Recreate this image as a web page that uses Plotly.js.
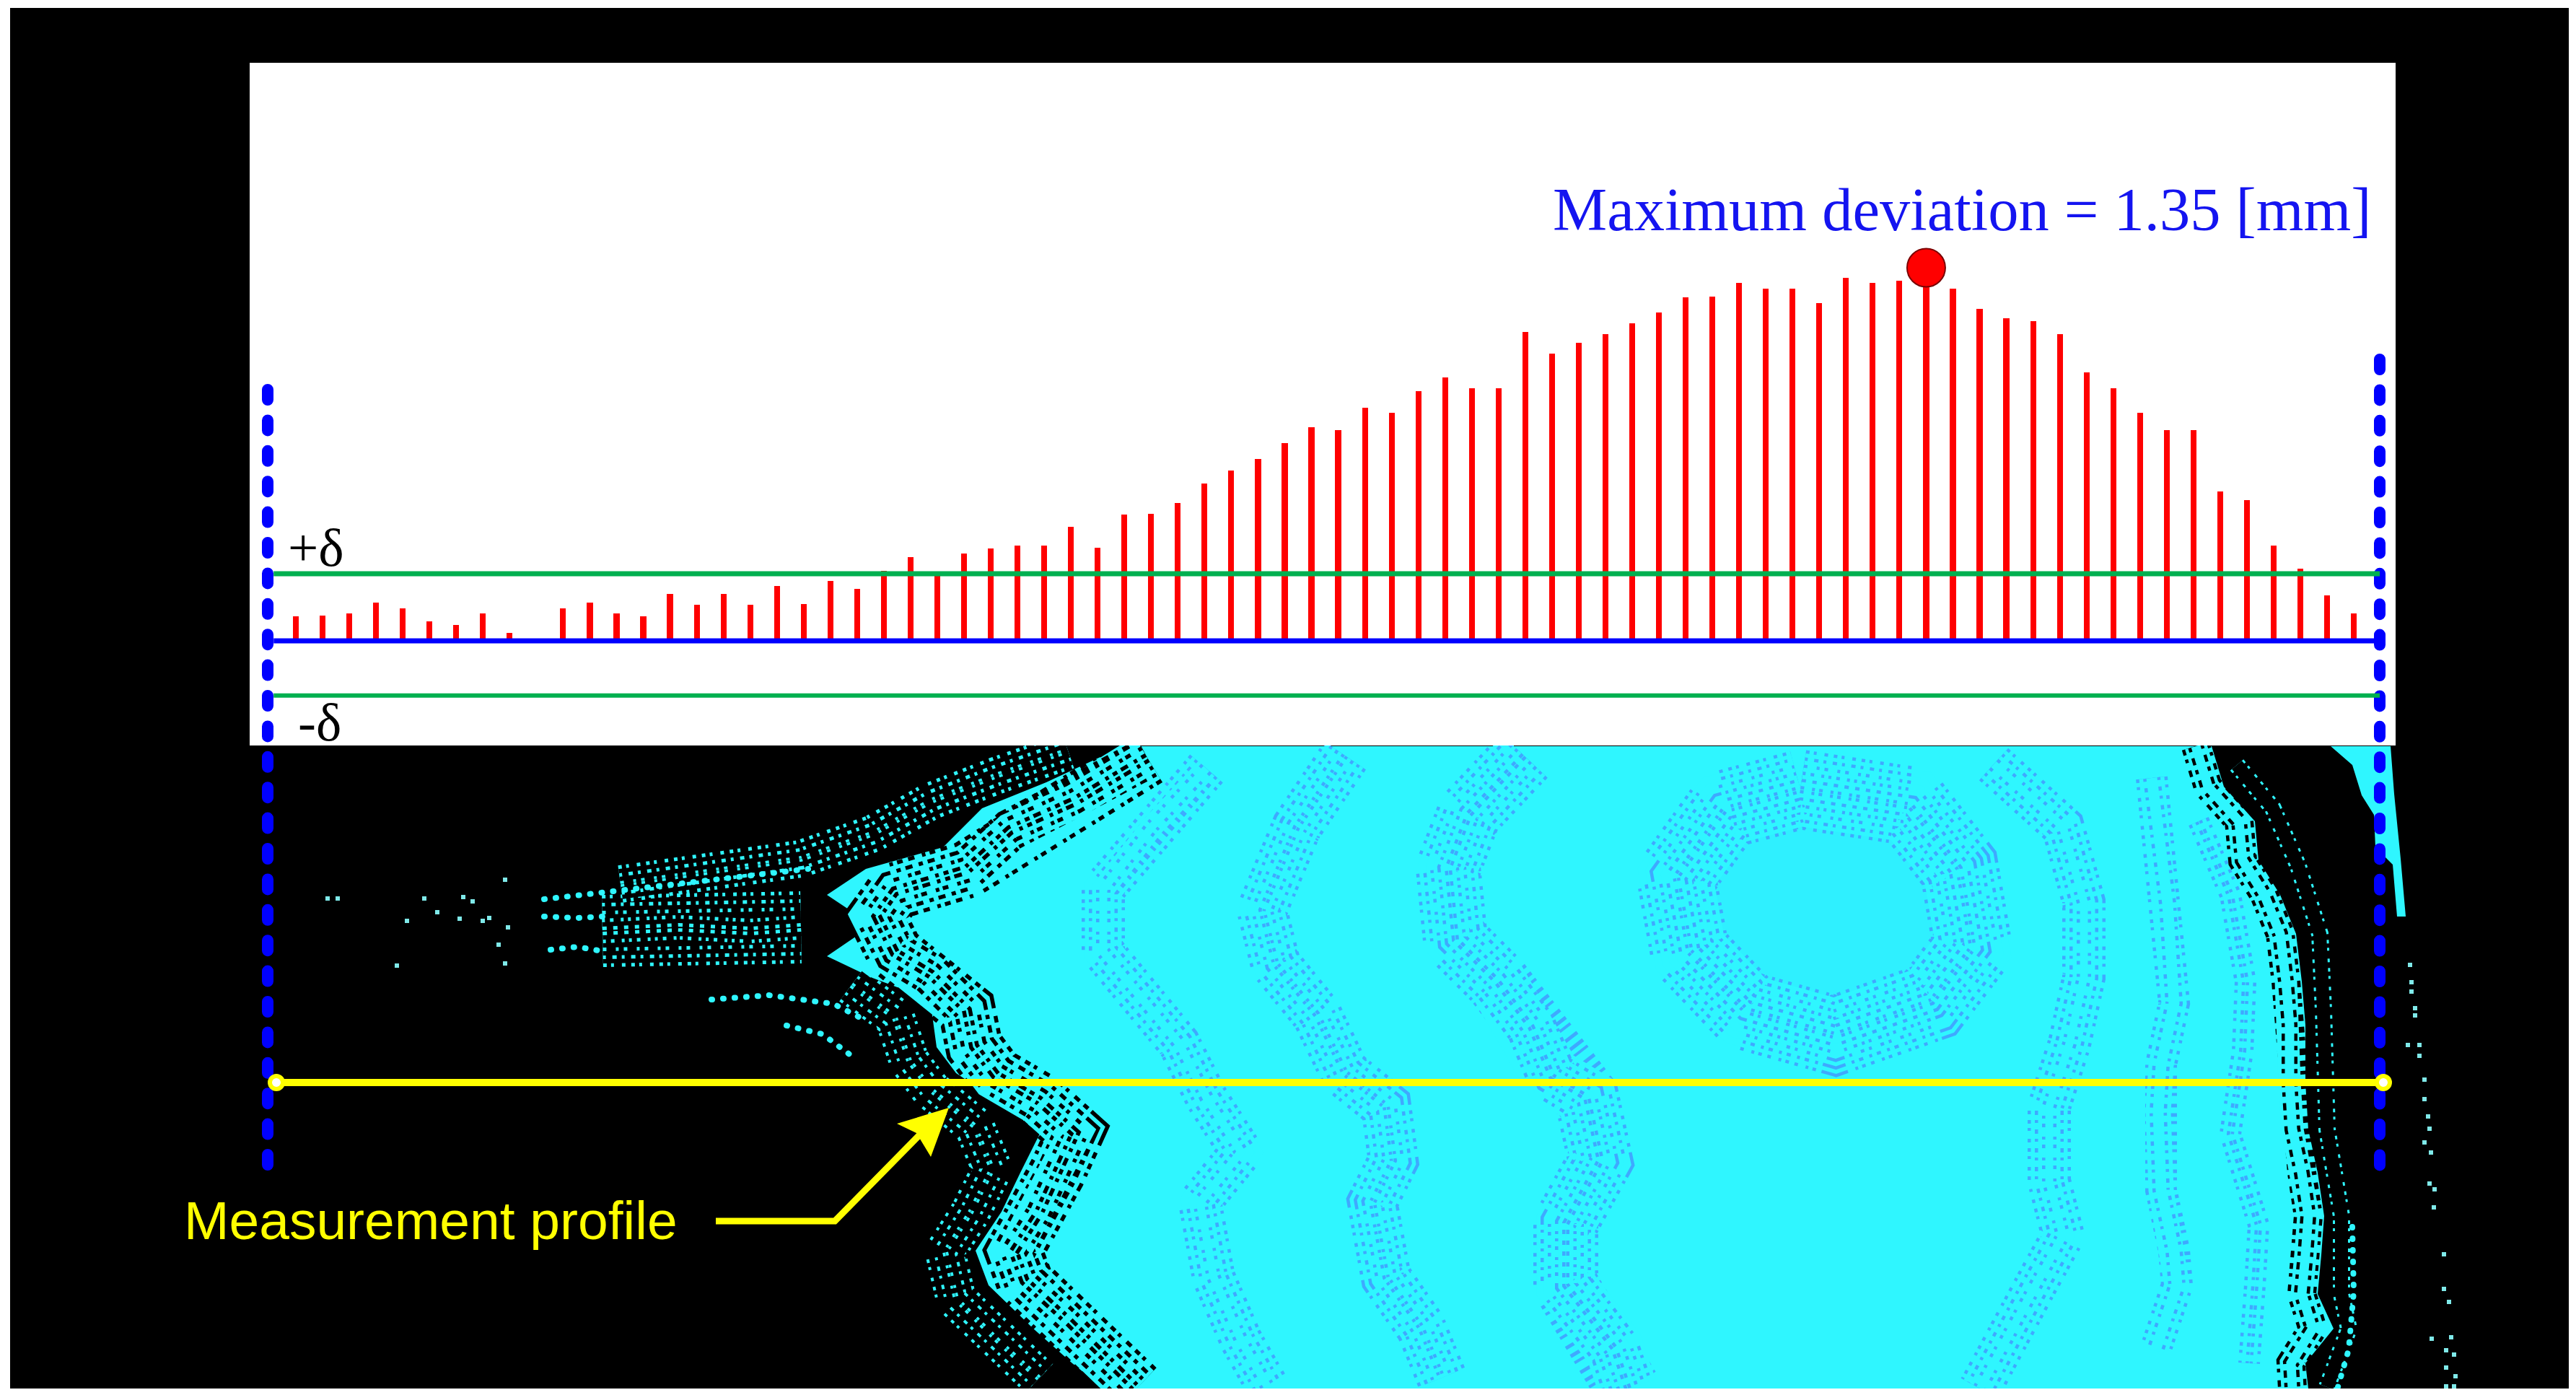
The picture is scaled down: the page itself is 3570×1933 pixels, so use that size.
<!DOCTYPE html>
<html><head><meta charset="utf-8">
<script src="https://cdn.plot.ly/plotly-3.0.1.min.js"></script>
<style>html,body{margin:0;padding:0;background:#fff}#g{width:3570px;height:1933px}</style>
</head><body><div id="g"></div>
<script>
// ---------- chart data: deviation (mm) at each measurement station ----------
const stations = [0,1,2,3,4,5,6,7,8,9,10,11,12,13,14,15,16,17,18,19,20,21,22,23,24,25,26,27,28,29,30,31,32,33,34,35,36,37,38,39,40,41,42,43,44,45,46,47,48,49,50,51,52,53,54,55,56,57,58,59,60,61,62,63,64,65,66,67,68,69,70,71,72,73,74,75,76,77];
const deviation = [.089,.091,.099,.138,.117,.070,.057,.099,.029,null,.117,.138,.099,.089,.170,.131,.170,.131,.198,.133,.217,.188,.253,.303,.235,.316,.334,.345,.345,.413,.337,.457,.460,.499,.569,.616,.658,.715,.773,.762,.843,.825,.903,.953,.914,.914,1.117,1.039,1.078,1.110,1.149,1.188,1.243,1.245,1.295,1.274,1.274,1.222,1.313,1.295,1.303,1.35,1.274,1.201,1.167,1.157,1.110,.971,.914,.825,.762,.762,.540,.509,.345,.261,.164,.099];
const lineStations = [-0.83, 77.97];
const plusDelta = [0.243, 0.243];
const minusDelta = [-0.198, -0.198];
const zeroLine = [0, 0];
const maxStation = [61];
const maxValue = [1.35];

// ---------- scene data, in image pixels ----------
const frameX = [14,3560,3560,14,14];
const frameY = [11,11,1924,1924,11];
const panelX = [346,3320,3320,346,346];
const panelY = [87,87,1033,1033,87];
const footX = [0,3570,3570,0,0];
const footY = [1924,1924,1933,1933,1924];
const leftEdgeX = [1557,1450,1361,1307,1200,1146,1209,1146,1209,1289,1298,1325,1388,1441,1414,1388,1352,1370,1432,1486,1530];
const leftEdgeY = [1034,1084,1120,1174,1204,1240,1282,1325,1355,1385,1451,1487,1529,1571,1625,1679,1733,1781,1841,1889,1924];
const rightEdgeX = [3199,3195,3234,3212,3217,3221,3212,3199,3195,3195,3190,3182,3160,3130,3125,3082,3065];
const rightEdgeY = [1924,1889,1841,1793,1739,1685,1625,1565,1500,1420,1360,1294,1240,1192,1138,1090,1034];
const sliverX = [3230,3260,3273,3290,3292,3316,3322,3334,3327,3318,3313];
const sliverY = [1034,1060,1102,1129,1174,1198,1270,1270,1190,1100,1034];
const ringX = [2495,2648,2715,2734,2677,2543,2419,2342,2323,2390,2495];
const ringY = [1094,1117,1203,1313,1388,1435,1400,1319,1215,1122,1094];
const bandAX = [2112,2036,2007,2017,2074,2122,2151,2199,2218,2170,2170,2237,2256];
const bandAY = [1047,1128,1203,1302,1359,1423,1492,1521,1608,1695,1781,1868,1924];
const bandBX = [1864,1797,1749,1768,1825,1864,1921,1931,1902,1921,1969,1998];
const bandBY = [1047,1146,1261,1336,1406,1487,1533,1608,1666,1770,1839,1909];
const bandCX = [1672,1596,1529,1529,1577,1634,1672,1720,1663,1682,1720,1758];
const bandCY = [1065,1146,1232,1319,1377,1446,1521,1596,1666,1770,1857,1924];
const bandDX = [2763,2859,2888,2888,2868,2840,2840,2859,2821,2773,2744];
const bandDY = [1059,1146,1250,1354,1446,1533,1637,1712,1781,1868,1924];
const bandEX = [2982,3004,3013,2995,2991,2995,3013,3017,2987];
const bandEY = [1078,1252,1390,1475,1541,1649,1733,1781,1871];
const bandFX = [3047,3091,3112,3108,3091,3104,3130,3125,3117];
const bandFY = [1138,1240,1361,1457,1571,1613,1697,1781,1889];
// speck bands just inside the cyan body (black specks)
const innerLeftX = [1590,1490,1400,1340,1240,1215,1240,1290,1340,1350,1380,1440,1490,1465,1440,1405,1420,1480,1530,1575];
const innerLeftY = [1050,1110,1150,1205,1235,1270,1320,1350,1400,1450,1490,1525,1570,1625,1680,1735,1775,1830,1880,1924];
const innerRightX = [3043,3060,3103,3108,3138,3160,3168,3173,3173,3177,3190,3199,3195,3190,3205,3175,3177];
const innerRightY = [1034,1090,1138,1192,1240,1294,1360,1420,1500,1565,1625,1685,1739,1793,1841,1889,1924];
// speck bands just outside the cyan body (cyan specks)
const armX = [860,1000,1110,1210,1290,1380,1480];
const armY = [1225,1205,1190,1155,1110,1075,1040];
const outerLowX = [1180,1240,1260,1290,1350,1375,1345,1310,1325,1385,1440];
const outerLowY = [1365,1410,1470,1510,1560,1620,1680,1735,1800,1860,1910];
const outerRightX = [3100,3150,3185,3215,3220,3225,3245,3245,3255,3225];
const outerRightY = [1060,1120,1200,1294,1400,1565,1685,1793,1841,1922];
// dense speck cloud of the left wedge
const wedgeX = [835,940,1040,1110];
const wedgeY = [1290,1285,1290,1285];
// sparse speck tracks, cyan on black
const cyanTracks = [
 [[754,879,1004,1120],[1246,1231,1216,1204]],
 [[754,800,835],[1270,1272,1270]],
 [[763,800,835],[1316,1312,1318]],
 [[986,1066,1155,1190],[1385,1379,1391,1409]],
 [[1090,1140,1180],[1421,1433,1463]],
 [[3260,3262,3255,3240],[1700,1790,1870,1922]]
];
const speckX = [454,468,588,642,655,606,564,637,669,678,704,691,700,550,700,3340,3342,3342,3347,3347,3337,3353,3353,3360,3360,3365,3367,3360,3369,3367,3374,3373,3387,3387,3394,3370,3397,3390,3401,3390,3403,3390,3401];
const speckY = [1245,1245,1245,1243,1249,1264,1276,1273,1276,1272,1285,1309,1335,1338,1219,1337,1361,1374,1397,1407,1448,1448,1463,1496,1523,1547,1564,1583,1597,1640,1648,1673,1738,1786,1804,1855,1853,1871,1877,1895,1907,1921,1921];
const leftBoundX = [371,371];
const leftBoundY = [540,1616];
const rightBoundX = [3298,3298];
const rightBoundY = [498,1616];
const profileX = [383,3303];
const profileY = [1500,1500];
const leaderX = [992,1157,1275];
const leaderY = [1692,1692,1572];
const arrowHeadX = [1315,1243,1270,1290,1315];
const arrowHeadY = [1535,1557,1570,1603,1535];

// ---------- labels ----------
const titleText = 'Maximum deviation = 1.35 [mm]';
const plusText = '+δ';
const minusText = '-δ';
const profileText = 'Measurement profile';

const CYAN = '#2ff6ff', DOT = '#3fa9ff', BLACK = '#000000';
const traces = [];
const px = t => Object.assign({xaxis:'x', yaxis:'y', hoverinfo:'skip', showlegend:false}, t);
const poly = (x,y,color) => traces.push(px({type:'scatter',mode:'lines',x,y,fill:'toself',fillcolor:color,line:{width:0,color}}));
const stroke = (x,y,color,width,dash) => traces.push(px({type:'scatter',mode:'lines',x,y,line:{color,width,dash:dash||'solid'}}));
const SOFT = ['5px,6px,4px,11px,5px,8px','4px,9px,6px,7px','5px,13px,4px,7px','4px,7px,5px,10px,4px,6px','6px,9px','5px,11px,4px,6px'];
const HARD = ['8px,6px,5px,11px,9px,8px','6px,9px,10px,7px','5px,13px,8px,5px','7px,7px,5px,10px,11px,6px','9px,9px','6px,11px,7px,6px'];
// rows of specks along a path: a hatched stroke whose middle is repainted, repeated inward
function stipple(x,y,W,dot,bg,rowStep,gap,dashes){
  let k=0;
  for(let w=W;w>4;w-=rowStep){
    stroke(x,y,dot,w,dashes[k++%dashes.length]);
    stroke(x,y,bg,Math.max(w-gap,0.5));
  }
}
poly(frameX,frameY,BLACK);
poly(leftEdgeX.concat(rightEdgeX),leftEdgeY.concat(rightEdgeY),CYAN);
poly(sliverX,sliverY,CYAN);
poly(ringX,ringY,'rgba(60,170,255,0.07)');
stipple(ringX,ringY,110,DOT,CYAN,20,9,SOFT);
stipple(bandAX,bandAY,90,DOT,CYAN,20,9,SOFT);
stipple(bandBX,bandBY,70,DOT,CYAN,20,9,SOFT);
stipple(bandCX,bandCY,60,DOT,CYAN,20,9,SOFT);
stipple(bandDX,bandDY,60,DOT,CYAN,20,9,SOFT);
stipple(bandEX,bandEY,44,DOT,CYAN,20,9,SOFT);
stipple(bandFX,bandFY,30,DOT,CYAN,20,9,SOFT);
stipple(innerLeftX,innerLeftY,80,BLACK,CYAN,22,11,HARD);
stipple(innerRightX,innerRightY,40,BLACK,CYAN,18,9,HARD);
stipple(wedgeX,wedgeY,100,CYAN,BLACK,22,10,SOFT);
stipple(armX,armY,52,CYAN,BLACK,22,10,SOFT);
stipple(outerLowX,outerLowY,56,CYAN,BLACK,24,8,SOFT);
stipple(outerRightX,outerRightY,24,CYAN,BLACK,24,6,SOFT);
for (const [x,y] of cyanTracks) stroke(x,y,CYAN,8,'1px,15px');
traces.push(px({type:'scatter',mode:'markers',x:speckX,y:speckY,marker:{color:'#7fe9e9',size:6,symbol:'square'}}));
poly(footX,footY,'#ffffff');
poly(panelX,panelY,'#ffffff');
stroke(leftBoundX,leftBoundY,'#0000ff',16,'14px,28.4px');
stroke(rightBoundX,rightBoundY,'#0000ff',16,'14px,28.4px');
stroke(profileX,profileY,'#ffff00',10);
traces.push(px({type:'scatter',mode:'markers',x:profileX,y:profileY,marker:{color:'#ffffff',size:18,line:{color:'#ffff00',width:6}}}));
stroke(leaderX,leaderY,'#ffff00',9);
poly(arrowHeadX,arrowHeadY,'#ffff00');

// measurement chart on its own scales
const ch = t => Object.assign({xaxis:'x2', yaxis:'y2', showlegend:false}, t);
traces.push(ch({type:'bar',x:stations,y:deviation,width:0.22,marker:{color:'#ff0000',line:{width:0}},name:'Deviation'}));
traces.push(ch({type:'scatter',mode:'lines',x:lineStations,y:plusDelta,line:{color:'#00b050',width:7},name:'+δ'}));
traces.push(ch({type:'scatter',mode:'lines',x:lineStations,y:minusDelta,line:{color:'#00b050',width:6},name:'-δ'}));
traces.push(ch({type:'scatter',mode:'lines',x:lineStations,y:zeroLine,line:{color:'#0000ff',width:7},name:'0'}));
traces.push(ch({type:'scatter',mode:'markers',x:maxStation,y:maxValue,marker:{color:'#ff0000',size:53,line:{color:'#7a0000',width:2}},name:'Maximum'}));

const hidden = {visible:false,fixedrange:true};
const W=3570,H=1933;
const layout = {
  width:W,height:H,margin:{l:0,r:0,t:0,b:0},paper_bgcolor:'#ffffff',plot_bgcolor:'rgba(0,0,0,0)',showlegend:false,bargap:0,
  xaxis:Object.assign({},hidden,{range:[0,W],domain:[0,1]}),
  yaxis:Object.assign({},hidden,{range:[H,0],domain:[0,1]}),
  xaxis2:Object.assign({},hidden,{range:[-1.728,78.564],domain:[346/W,3320/W],anchor:'y2'}),
  yaxis2:Object.assign({},hidden,{range:[-0.3786,2.0914],domain:[1-1033/H,1-87/H],anchor:'x2'}),
  annotations:[
    {xref:'x',yref:'y',x:2150,y:290,text:titleText,showarrow:false,xanchor:'left',yanchor:'middle',font:{family:'Liberation Serif',size:84.5,color:'#1414f0'}},
    {xref:'x',yref:'y',x:397,y:758,text:plusText,showarrow:false,xanchor:'left',yanchor:'middle',font:{family:'Liberation Serif',size:75,color:'#000'}},
    {xref:'x',yref:'y',x:411,y:1000,text:minusText,showarrow:false,xanchor:'left',yanchor:'middle',font:{family:'Liberation Serif',size:75,color:'#000'}},
    {xref:'x',yref:'y',x:253,y:1691,text:profileText,showarrow:false,xanchor:'left',yanchor:'middle',font:{family:'Liberation Sans',size:75,color:'#ffff00'}}
  ]
};
Plotly.newPlot('g',traces,layout,{staticPlot:true,displayModeBar:false}).then(gd=>{
  gd.querySelectorAll('.js-line').forEach(p=>{
    const d=p.style.strokeDasharray||'';
    if (d.indexOf('14px')===0||d.indexOf('1px')===0) p.style.strokeLinecap='round';
  });
});
</script></body></html>
